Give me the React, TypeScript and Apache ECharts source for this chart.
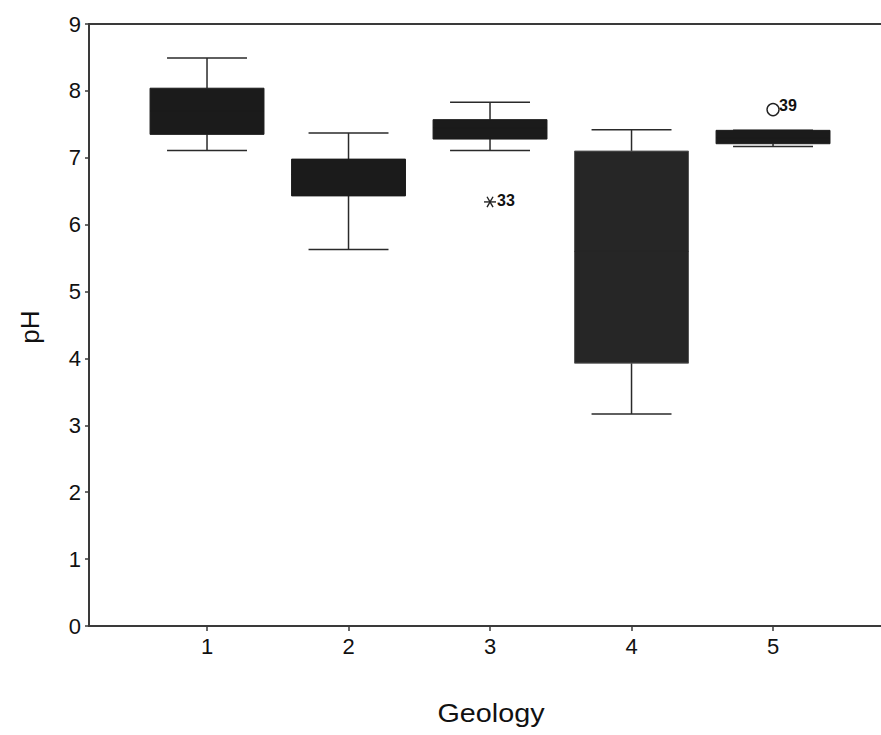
import React, { useEffect, useRef } from "react";
import * as echarts from "echarts";

// Geology groups on the x axis
const categories = [1, 2, 3, 4, 5];
// Five-number summaries of pH per geology group: [min, Q1, median, Q3, max]
const phStats = [
  [7.11, 7.35, 7.7, 8.04, 8.49],
  [5.63, 6.43, 6.75, 6.98, 7.37],
  [7.11, 7.28, 7.45, 7.57, 7.83],
  [3.17, 3.93, 5.6, 7.1, 7.42],
  [7.17, 7.21, 7.3, 7.41, 7.41],
];
// Outlying cases: [group, pH, case number, marker]
const outliers: [number, number, string, string][] = [
  [3, 6.34, "33", "extreme"],
  [5, 7.72, "39", "outlier"],
];
const yTicks = [0, 1, 2, 3, 4, 5, 6, 7, 8, 9];

const FONT = "'Liberation Sans', Arial, Helvetica, sans-serif";
const INK = "#111111";

export default function App() {
  const ref = useRef<HTMLDivElement>(null);

  useEffect(() => {
    if (!ref.current) return;
    const chart = echarts.init(ref.current, undefined, { renderer: "svg" });

    const boxData = categories.map((c, i) => [c, ...phStats[i]]);

    chart.setOption({
      animation: false,
      backgroundColor: "#ffffff",
      grid: { left: 89, right: 0, top: 24, bottom: 109 },
      xAxis: [
        {
          type: "value",
          min: 0.166,
          max: 5.763,
          splitLine: { show: false },
          axisLine: { show: true, lineStyle: { color: "#3a3a3a", width: 2 } },
          axisTick: {
            show: true,
            customValues: categories,
            length: 5,
            lineStyle: { color: "#3a3a3a", width: 1.5 },
          },
          axisLabel: {
            customValues: categories,
            fontFamily: FONT,
            fontSize: 22,
            color: INK,
            margin: 9,
          },
        },
        {
          type: "value",
          position: "top",
          min: 0.166,
          max: 5.763,
          splitLine: { show: false },
          axisLine: { show: true, onZero: false, lineStyle: { color: "#3a3a3a", width: 2 } },
          axisTick: { show: false },
          axisLabel: { show: false },
        },
      ],
      yAxis: {
        type: "value",
        min: 0,
        max: 9,
        interval: 1,
        splitLine: { show: false },
        axisLine: { show: true, lineStyle: { color: "#3a3a3a", width: 2 } },
        axisTick: { show: true, length: 4, lineStyle: { color: "#3a3a3a", width: 1.5 } },
        axisLabel: {
          fontFamily: FONT,
          fontSize: 22,
          color: INK,
          margin: 8,
          formatter: (v: number) => (yTicks.includes(v) ? String(v) : ""),
        },
      },
      graphic: [
        {
          type: "text",
          x: 30,
          y: 327,
          rotation: Math.PI / 2,
          style: {
            text: "pH",
            font: `26px ${FONT}`,
            fill: INK,
            align: "center",
            verticalAlign: "middle",
          },
        },
        {
          type: "text",
          x: 491,
          y: 714,
          scaleX: 1.15,
          style: {
            text: "Geology",
            font: `25px ${FONT}`,
            fill: INK,
            align: "center",
            verticalAlign: "middle",
          },
        },
      ],
      series: [
        {
          type: "custom",
          name: "pH",
          data: boxData,
          encode: { x: 0, y: [1, 2, 3, 4, 5] },
          renderItem: (params: any, api: any) => {
            const x = api.value(0);
            const boxHalf = api.size([0.805, 0])[0] / 2;
            const capHalf = api.size([0.565, 0])[0] / 2;
            const pMin = api.coord([x, api.value(1)]);
            const pQ1 = api.coord([x, api.value(2)]);
            const pMed = api.coord([x, api.value(3)]);
            const pQ3 = api.coord([x, api.value(4)]);
            const pMax = api.coord([x, api.value(5)]);
            const cx = pMin[0];
            const textured = params.dataIndex === 3;
            const fill = textured ? "#262626" : "#1b1b1b";
            const line = { stroke: "#2a2a2a", lineWidth: 1.5 };
            return {
              type: "group",
              children: [
                { type: "line", shape: { x1: cx, y1: pMax[1], x2: cx, y2: pQ3[1] }, style: line },
                { type: "line", shape: { x1: cx, y1: pQ1[1], x2: cx, y2: pMin[1] }, style: line },
                { type: "line", shape: { x1: cx - capHalf, y1: pMax[1], x2: cx + capHalf, y2: pMax[1] }, style: line },
                { type: "line", shape: { x1: cx - capHalf, y1: pMin[1], x2: cx + capHalf, y2: pMin[1] }, style: line },
                {
                  type: "rect",
                  shape: { x: cx - boxHalf, y: pQ3[1], width: boxHalf * 2, height: pQ1[1] - pQ3[1] },
                  style: { fill, stroke: textured ? "#555" : "#1b1b1b", lineWidth: 1 },
                },
                { type: "line", shape: { x1: cx - boxHalf, y1: pMed[1], x2: cx + boxHalf, y2: pMed[1] }, style: { stroke: fill, lineWidth: 1 } },
              ],
            };
          },
        },
        {
          type: "custom",
          name: "outliers",
          data: outliers,
          encode: { x: 0, y: 1 },
          renderItem: (params: any, api: any) => {
            const item = outliers[params.dataIndex];
            const p = api.coord([api.value(0), api.value(1)]);
            const children: any[] = [];
            if (item[3] === "extreme") {
              // six-armed asterisk with a horizontal stroke
              const r = 6;
              for (let k = 0; k < 3; k++) {
                const a = (Math.PI / 3) * k;
                children.push({
                  type: "line",
                  shape: {
                    x1: p[0] - r * Math.cos(a),
                    y1: p[1] - r * Math.sin(a),
                    x2: p[0] + r * Math.cos(a),
                    y2: p[1] + r * Math.sin(a),
                  },
                  style: { stroke: "#222", lineWidth: 1.4 },
                });
              }
              children.push({
                type: "text",
                style: { text: item[2], x: p[0] + 7, y: p[1] - 1, font: `bold 16px ${FONT}`, fill: INK, verticalAlign: "middle" },
              });
            } else {
              children.push({
                type: "circle",
                shape: { cx: p[0], cy: p[1], r: 6 },
                style: { fill: "none", stroke: "#222", lineWidth: 1.4 },
              });
              children.push({
                type: "text",
                style: { text: item[2], x: p[0] + 6, y: p[1] - 4, font: `bold 16px ${FONT}`, fill: INK, verticalAlign: "middle" },
              });
            }
            return { type: "group", children };
          },
        },
      ],
    });

    return () => chart.dispose();
  }, []);

  return (
    <div
      ref={ref}
      style={{ position: "absolute", left: 0, top: 0, width: 881, height: 735 }}
    />
  );
}
